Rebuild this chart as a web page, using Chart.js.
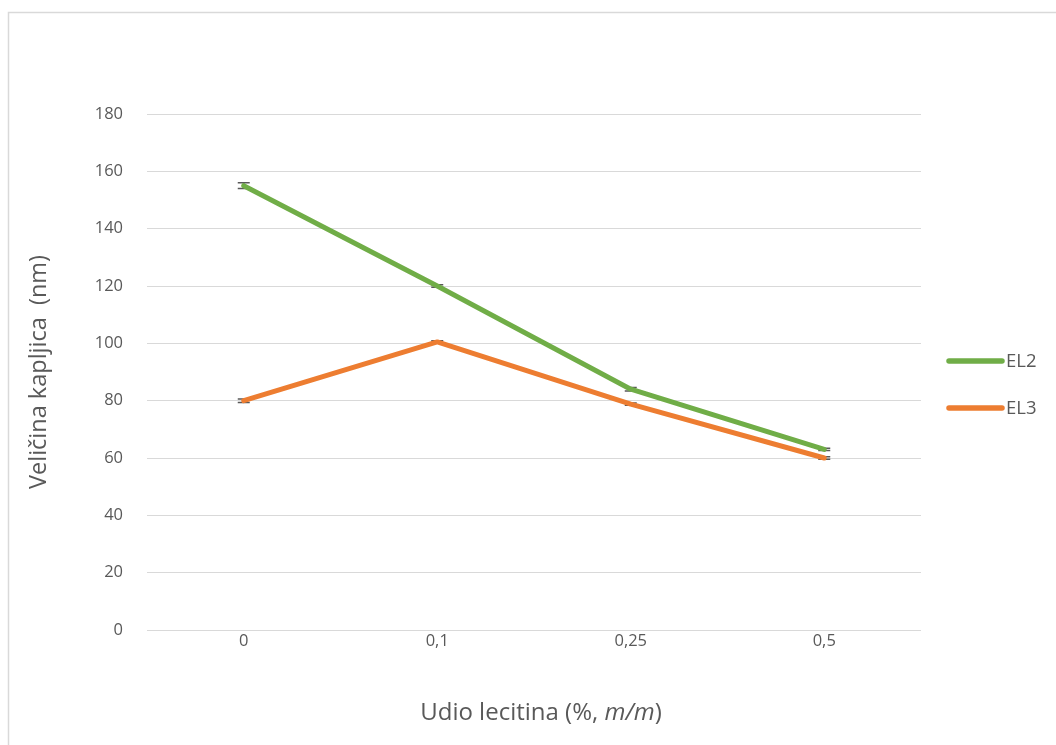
<!DOCTYPE html>
<html>
<head>
<meta charset="utf-8">
<script src="https://cdn.jsdelivr.net/npm/chart.js@4.4.0/dist/chart.umd.min.js"></script>
<style>
  html, body { margin: 0; padding: 0; background: #ffffff; }
  #wrap { width: 1056px; height: 745px; position: relative; }
</style>
</head>
<body>
<div id="wrap"><canvas id="c" width="1056" height="745"></canvas></div>
<script>
const categories = ['0', '0,1', '0,25', '0,5'];
const seriesNames = ['EL2', 'EL3'];
const el2Values = [155, 120, 84, 63];
const el3Values = [80, 100.5, 78.8, 60];
const el2Errors = [1.0, 0.4, 0.6, 0.4];
const el3Errors = [0.6, 0.4, 0.4, 0.4];
const yTicks = [0, 20, 40, 60, 80, 100, 120, 140, 160, 180];
const xTitleParts = [['Udio lecitina (%, ', false], ['m/m', true], [')', false]];
const yTitle = 'Veličina kapljica  (nm)';

const FONT = '"Open Sans", Lato, sans-serif';
const TEXT = '#595959';
const GRID = '#d9d9d9';

const errorsBySeries = [el2Errors, el3Errors];

const borderPlugin = {
  id: 'frame',
  beforeDraw(chart) {
    const ctx = chart.ctx;
    ctx.save();
    ctx.fillStyle = '#ffffff';
    ctx.fillRect(0, 0, chart.width, chart.height);
    ctx.strokeStyle = GRID;
    ctx.lineWidth = 1.5;
    ctx.strokeRect(8.5, 12.5, chart.width + 20, chart.height + 20);
    ctx.restore();
  }
};

const errorBarPlugin = {
  id: 'errorBars',
  beforeDatasetsDraw(chart) {
    const ctx = chart.ctx;
    const x = chart.scales.x, y = chart.scales.y;
    ctx.save();
    ctx.strokeStyle = '#595959';
    ctx.lineWidth = 1.5;
    chart.data.datasets.forEach((ds, di) => {
      const errs = errorsBySeries[di];
      ds.data.forEach((v, i) => {
        const px = x.getPixelForValue(i);
        const y1 = y.getPixelForValue(v + errs[i]);
        const y2 = y.getPixelForValue(v - errs[i]);
        ctx.beginPath();
        ctx.moveTo(px, y1); ctx.lineTo(px, y2);
        ctx.moveTo(px - 6, y1); ctx.lineTo(px + 6, y1);
        ctx.moveTo(px - 6, y2); ctx.lineTo(px + 6, y2);
        ctx.stroke();
      });
    });
    ctx.restore();
  }
};

const legendPlugin = {
  id: 'customLegend',
  afterDraw(chart) {
    const ctx = chart.ctx;
    const a = chart.chartArea;
    const cy = (a.top + a.bottom) / 2;
    const x0 = a.right + 28;
    ctx.save();
    chart.data.datasets.forEach((ds, i) => {
      const yy = cy - 11 + i * 47;
      ctx.strokeStyle = ds.borderColor;
      ctx.lineWidth = 5.5;
      ctx.lineCap = 'round';
      ctx.beginPath();
      ctx.moveTo(x0, yy); ctx.lineTo(x0 + 53, yy);
      ctx.stroke();
      ctx.fillStyle = TEXT;
      ctx.font = '18.5px ' + FONT;
      ctx.textBaseline = 'middle';
      ctx.textAlign = 'left';
      ctx.fillText(ds.label, x0 + 57, yy + 1);
    });
    ctx.restore();
  }
};

const xTitlePlugin = {
  id: 'xTitle',
  afterDraw(chart) {
    const ctx = chart.ctx;
    ctx.save();
    ctx.fillStyle = TEXT;
    ctx.textBaseline = 'middle';
    ctx.textAlign = 'left';
    const fonts = xTitleParts.map(p => (p[1] ? 'italic ' : '') + '24px ' + FONT);
    let total = 0;
    const widths = xTitleParts.map((p, i) => { ctx.font = fonts[i]; const w = ctx.measureText(p[0]).width; total += w; return w; });
    let xx = 541 - total / 2;
    xTitleParts.forEach((p, i) => {
      ctx.font = fonts[i];
      ctx.fillText(p[0], xx, 713);
      xx += widths[i];
    });
    ctx.restore();
  }
};

new Chart(document.getElementById('c'), {
  type: 'line',
  data: {
    labels: categories,
    datasets: [
      { label: seriesNames[0], data: el2Values, borderColor: '#70ad47', backgroundColor: '#70ad47',
        borderWidth: 5, pointRadius: 0, tension: 0, borderCapStyle: 'round', borderJoinStyle: 'round' },
      { label: seriesNames[1], data: el3Values, borderColor: '#ed7d31', backgroundColor: '#ed7d31',
        borderWidth: 5, pointRadius: 0, tension: 0, borderCapStyle: 'round', borderJoinStyle: 'round' }
    ]
  },
  options: {
    responsive: false,
    animation: false,
    devicePixelRatio: 1,
    layout: { padding: { left: 0, top: 114, right: 135, bottom: 0 } },
    plugins: { legend: { display: false }, tooltip: { enabled: false } },
    scales: {
      x: {
        offset: true,
        grid: { display: false, drawTicks: false },
        border: { display: false },
        ticks: { color: TEXT, font: { family: FONT, size: 16.5 }, padding: 1 },
        title: { display: false },
        afterFit(s) { s.height = 115; }
      },
      y: {
        min: 0, max: 180,
        afterBuildTicks(s) { s.ticks = yTicks.map(v => ({ value: v })); },
        grid: { color: GRID, lineWidth: 1, drawTicks: false },
        border: { display: false },
        ticks: { color: TEXT, font: { family: FONT, size: 16.5 }, padding: 24 },
        title: { display: true, text: yTitle, color: TEXT,
                 font: { family: FONT, size: 23.5 }, padding: { top: 25, bottom: 0 } },
        afterFit(s) { s.width = 147; }
      }
    }
  },
  plugins: [borderPlugin, errorBarPlugin, legendPlugin, xTitlePlugin]
});
</script>
</body>
</html>
